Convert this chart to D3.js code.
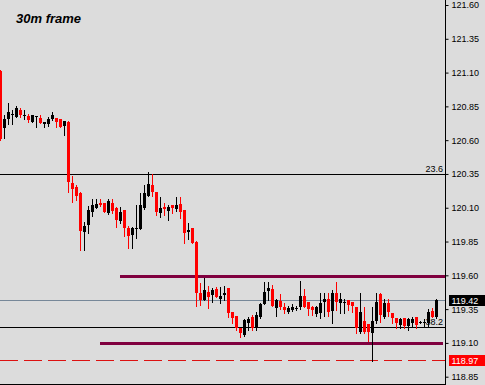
<!DOCTYPE html>
<html>
<head>
<meta charset="utf-8">
<script src="https://cdn.jsdelivr.net/npm/d3@7"></script>
<style>
  body { margin: 0; background: #dcdcdc; }
  svg { display: block; }
</style>
</head>
<body>
<script>
// 30m candles, oldest first
const open = [121.112,120.690,120.756,120.790,120.771,120.823,120.784,120.778,120.734,120.776,
  120.764,120.719,120.719,120.756,120.764,120.756,120.704,120.734,120.284,120.254,
  120.210,119.921,119.973,120.069,120.099,120.136,120.136,120.062,120.136,120.099,
  120.003,120.084,119.951,119.899,119.949,119.944,120.099,120.188,120.269,120.217,
  120.062,120.106,120.077,120.121,120.091,120.128,120.084,119.921,119.951,119.848,
  119.470,119.418,119.477,119.455,119.499,119.425,119.455,119.507,119.329,119.300,
  119.211,119.159,119.248,119.292,119.218,119.292,119.388,119.485,119.499,119.359,
  119.410,119.366,119.329,119.344,119.357,119.366,119.448,119.403,119.366,119.314,
  119.322,119.403,119.425,119.337,119.470,119.396,119.401,119.418,119.403,119.366,
  119.181,119.262,119.240,119.174,119.262,119.462,119.292,119.396,119.322,119.285,
  119.233,119.285,119.226,119.248,119.292,119.253,119.253,119.248,119.337,119.292];
const high = [121.119,120.786,120.875,120.823,120.853,120.838,120.823,120.793,120.786,120.778,
  120.786,120.734,120.771,120.808,120.764,120.756,120.742,120.742,120.336,120.269,
  120.217,119.995,120.114,120.165,120.165,120.165,120.136,120.165,120.165,120.106,
  120.106,120.084,119.966,119.958,120.121,120.210,120.269,120.366,120.350,120.217,
  120.180,120.136,120.121,120.121,120.180,120.180,120.084,119.988,119.951,119.855,
  119.544,119.581,119.522,119.507,119.515,119.515,119.522,119.507,119.329,119.300,
  119.211,119.277,119.292,119.307,119.329,119.396,119.551,119.551,119.529,119.425,
  119.462,119.396,119.374,119.388,119.374,119.559,119.499,119.403,119.374,119.374,
  119.470,119.470,119.470,119.492,119.551,119.470,119.425,119.418,119.403,119.366,
  119.470,119.366,119.240,119.366,119.470,119.470,119.425,119.425,119.322,119.285,
  119.285,119.285,119.285,119.292,119.292,119.262,119.277,119.351,119.359,119.425];
const low = [120.601,120.616,120.719,120.719,120.768,120.771,120.756,120.734,120.731,120.697,
  120.724,120.697,120.704,120.749,120.697,120.694,120.638,120.217,120.143,120.158,
  119.788,119.788,119.914,120.040,120.096,120.114,120.066,120.054,120.062,119.958,
  119.988,119.892,119.803,119.803,119.877,119.941,120.091,120.185,120.188,120.047,
  120.032,120.047,120.010,120.062,120.077,120.025,119.840,119.870,119.836,119.374,
  119.381,119.415,119.359,119.403,119.437,119.396,119.418,119.292,119.248,119.196,
  119.144,119.152,119.196,119.196,119.196,119.285,119.385,119.418,119.371,119.300,
  119.351,119.322,119.322,119.337,119.344,119.351,119.363,119.307,119.307,119.300,
  119.285,119.300,119.300,119.248,119.344,119.322,119.322,119.344,119.329,119.174,
  119.174,119.174,119.115,118.967,119.248,119.255,119.285,119.300,119.248,119.211,
  119.211,119.211,119.196,119.218,119.211,119.248,119.226,119.218,119.289,119.285];
const close = [120.608,120.756,120.808,120.793,120.838,120.786,120.787,120.749,120.786,120.778,
  120.727,120.734,120.756,120.786,120.734,120.697,120.742,120.291,120.239,120.188,
  119.929,119.966,120.084,120.121,120.128,120.121,120.069,120.151,120.077,120.010,
  120.069,119.951,119.892,119.951,119.951,120.121,120.210,120.277,120.217,120.069,
  120.099,120.091,120.106,120.099,120.121,120.069,119.914,119.936,119.840,119.470,
  119.418,119.492,119.440,119.492,119.440,119.448,119.470,119.322,119.285,119.211,
  119.174,119.270,119.277,119.211,119.307,119.388,119.477,119.507,119.374,119.418,
  119.366,119.344,119.359,119.366,119.359,119.448,119.366,119.351,119.344,119.366,
  119.396,119.425,119.329,119.470,119.403,119.425,119.403,119.381,119.374,119.211,
  119.329,119.181,119.181,119.262,119.403,119.307,119.396,119.329,119.285,119.248,
  119.277,119.226,119.277,119.277,119.233,119.255,119.255,119.329,119.292,119.420];

const priceTicks = [121.60, 121.35, 121.10, 120.85, 120.60, 120.35, 120.10, 119.85, 119.60, 119.35, 119.10, 118.85];
const fibLabels = ["23.6", "38.2"];
const fibPrices = [120.35, 119.215];
const zonePrices = [119.595, 119.10];
const zoneStart = [30, 25];
const bidPrice = 119.42;
const stopPrice = 118.97;
const title = "30m frame";

const width = 485;
const height = 385;
const plotW = 445;

const svg = d3.select("body")
  .append("svg")
  .attr("width", width)
  .attr("height", height)
  .style("background", "#dcdcdc");

const x = d3.scaleLinear().domain([0, 111.25]).range([0, plotW]);
const y = d3.scaleLinear().domain([118.85, 121.60]).range([376.7, 5]);
const py = p => Math.round(y(p));

const lines = svg.append("g").attr("shape-rendering", "crispEdges");

// fib levels
lines.selectAll(".fib")
  .data(fibPrices)
  .enter().append("line")
  .attr("x1", 0).attr("x2", plotW)
  .attr("y1", d => py(d) + 0.5).attr("y2", d => py(d) + 0.5)
  .attr("stroke", "#000").attr("stroke-width", 1);

svg.selectAll(".fibtxt")
  .data(fibPrices)
  .enter().append("text")
  .attr("x", plotW - 2)
  .attr("y", d => py(d) - 2)
  .attr("text-anchor", "end")
  .style("font", "9px 'Liberation Sans', Arial, sans-serif")
  .text((d, i) => fibLabels[i]);

// bid line
lines.append("line")
  .attr("x1", 0).attr("x2", plotW)
  .attr("y1", py(bidPrice) + 0.5).attr("y2", py(bidPrice) + 0.5)
  .attr("stroke", "#778899");

// support / resistance zones
lines.selectAll(".zone")
  .data(zonePrices)
  .enter().append("line")
  .attr("x1", (d, i) => x(zoneStart[i]))
  .attr("x2", (d, i) => i === 0 ? plotW : plotW - 2)
  .attr("y1", d => py(d) + 0.5).attr("y2", d => py(d) + 0.5)
  .attr("stroke", "#80003f").attr("stroke-width", 3);

// dashed stop line
lines.append("line")
  .attr("x1", 0).attr("x2", plotW)
  .attr("y1", py(stopPrice) + 0.5).attr("y2", py(stopPrice) + 0.5)
  .attr("stroke", "#dd1111")
  .attr("stroke-dasharray", "18,6");

// candles
const candles = svg.append("g").attr("shape-rendering", "crispEdges");
const idx = d3.range(open.length);
const col = i => close[i] >= open[i] ? "#000" : "#ff0000";

candles.selectAll(".wick")
  .data(idx)
  .enter().append("rect")
  .attr("x", i => Math.round(x(i)))
  .attr("width", 1)
  .attr("y", i => py(high[i]))
  .attr("height", i => py(low[i]) - py(high[i]) + 1)
  .attr("fill", col);

candles.selectAll(".body")
  .data(idx)
  .enter().append("rect")
  .attr("x", i => Math.round(x(i)) - 1)
  .attr("width", 3)
  .attr("y", i => py(Math.max(open[i], close[i])))
  .attr("height", i => Math.max(1, py(Math.min(open[i], close[i])) - py(Math.max(open[i], close[i]))))
  .attr("fill", col);

// price axis
const axis = svg.append("g")
  .attr("transform", `translate(${plotW + 0.5},0)`)
  .call(d3.axisRight(y).tickValues(priceTicks).tickSize(3).tickPadding(3).tickFormat(d3.format(".2f")));
axis.select(".domain").remove();
axis.selectAll("text")
  .style("font", "9px 'Liberation Sans', Arial, sans-serif")
  .attr("fill", "#000");
axis.selectAll("line").attr("stroke", "#000");

svg.append("line")
  .attr("x1", plotW + 0.5).attr("x2", plotW + 0.5)
  .attr("y1", 0).attr("y2", height)
  .attr("stroke", "#000");

svg.append("line")
  .attr("x1", 0).attr("x2", plotW)
  .attr("y1", height - 0.5).attr("y2", height - 0.5)
  .attr("stroke", "#000");

// price markers
const markers = [
  { price: bidPrice, fill: "#000" },
  { price: stopPrice, fill: "#ff0000" }
];
const mk = svg.selectAll(".marker")
  .data(markers)
  .enter().append("g");
mk.append("rect")
  .attr("x", plotW + 4)
  .attr("y", d => py(d.price) - 5)
  .attr("width", width - plotW - 4)
  .attr("height", 11)
  .attr("fill", d => d.fill)
  .attr("shape-rendering", "crispEdges");
mk.append("text")
  .attr("x", plotW + 6.5)
  .attr("y", d => py(d.price) + 4)
  .attr("fill", "#fff")
  .style("font", "9px 'Liberation Sans', Arial, sans-serif")
  .text(d => d3.format(".2f")(d.price));

// title
svg.append("text")
  .attr("x", 16)
  .attr("y", 23)
  .style("font", "italic bold 13px 'Liberation Sans', Arial, sans-serif")
  .attr("fill", "#000")
  .text(title);
</script>
</body>
</html>
